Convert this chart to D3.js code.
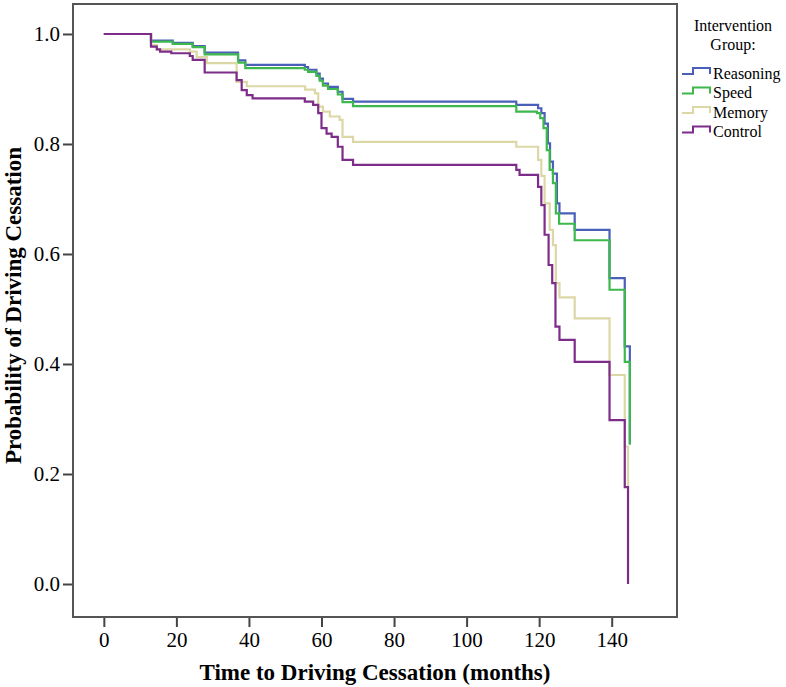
<!DOCTYPE html>
<html>
<head>
<meta charset="utf-8">
<script src="https://cdn.jsdelivr.net/npm/d3@7"></script>
<style>
  html, body { margin: 0; padding: 0; background: #ffffff; }
  svg { display: block; }
  text { font-family: "Liberation Serif", "Times New Roman", serif; fill: #000; }
</style>
</head>
<body>
<svg id="chart" width="786" height="687"></svg>
<script>
// ---- Data ----
const groups = ["Reasoning", "Speed", "Memory", "Control"];
const groupColors = ["#4a5fb8", "#3cb84c", "#dcd8a6", "#7d2c8a"];

const reasoningTimes = [0, 13.0, 19.0, 24.5, 27.8, 37.0, 39.0, 55.4, 56.3, 58.6, 59.5, 60.4, 61.8, 64.5, 65.8, 68.7, 113.7, 119.7, 120.6, 121.5, 122.4, 123.0, 123.8, 124.9, 125.6, 129.8, 139.4, 143.6, 145.0];
const reasoningProb  = [1.0, 0.988, 0.984, 0.978, 0.966, 0.952, 0.944, 0.940, 0.935, 0.928, 0.919, 0.910, 0.904, 0.895, 0.882, 0.877, 0.871, 0.865, 0.856, 0.837, 0.801, 0.768, 0.746, 0.692, 0.674, 0.644, 0.556, 0.432, 0.255];

const speedTimes = [0, 13.0, 19.0, 24.5, 27.8, 37.0, 39.0, 55.4, 56.3, 58.6, 59.5, 60.4, 61.8, 64.5, 65.8, 68.7, 113.7, 119.4, 120.3, 121.2, 122.1, 122.9, 123.8, 124.6, 125.5, 129.8, 139.4, 143.6, 145.0];
const speedProb  = [1.0, 0.986, 0.982, 0.976, 0.963, 0.948, 0.938, 0.935, 0.931, 0.924, 0.915, 0.906, 0.900, 0.890, 0.876, 0.869, 0.859, 0.856, 0.847, 0.829, 0.789, 0.753, 0.729, 0.674, 0.655, 0.625, 0.535, 0.404, 0.253];

const memoryTimes = [0, 13.0, 14.6, 23.7, 25.6, 28.4, 36.6, 39.4, 55.5, 58.2, 59.1, 60.4, 62.3, 65.0, 65.8, 68.7, 113.7, 119.7, 120.6, 121.5, 122.9, 123.8, 124.6, 125.6, 129.8, 139.4, 143.6, 144.5];
const memoryProb  = [1.0, 0.980, 0.972, 0.968, 0.958, 0.947, 0.913, 0.905, 0.899, 0.892, 0.868, 0.859, 0.850, 0.844, 0.813, 0.804, 0.795, 0.771, 0.742, 0.692, 0.644, 0.616, 0.547, 0.521, 0.483, 0.380, 0.250, 0.176];

const controlTimes = [0, 13.0, 14.6, 15.5, 18.6, 23.7, 24.5, 27.8, 36.6, 38.0, 39.4, 41.0, 55.4, 57.7, 59.1, 60.0, 61.4, 62.8, 64.5, 65.8, 68.7, 113.7, 114.6, 119.7, 120.6, 121.5, 122.6, 123.6, 124.5, 125.6, 129.8, 139.4, 143.6, 144.5];
const controlProb  = [1.0, 0.977, 0.972, 0.968, 0.965, 0.960, 0.953, 0.930, 0.916, 0.898, 0.889, 0.883, 0.877, 0.871, 0.856, 0.829, 0.819, 0.813, 0.795, 0.771, 0.762, 0.753, 0.744, 0.722, 0.689, 0.635, 0.580, 0.547, 0.468, 0.444, 0.404, 0.298, 0.176, 0.0];

const xTicks = [0, 20, 40, 60, 80, 100, 120, 140];
const yTicks = [0.0, 0.2, 0.4, 0.6, 0.8, 1.0];

const xTitle = "Time to Driving Cessation (months)";
const yTitle = "Probability of Driving Cessation";
const legendTitle = ["Intervention", "Group:"];

// ---- Build series ----
const seriesTimes = [reasoningTimes, speedTimes, memoryTimes, controlTimes];
const seriesProb = [reasoningProb, speedProb, memoryProb, controlProb];
const series = groups.map((g, i) => ({
  name: g,
  color: groupColors[i],
  points: seriesTimes[i].map((t, j) => ({ t: t, p: seriesProb[i][j] }))
}));

// ---- Layout ----
const svg = d3.select("#chart");
const pLeft = 73, pRight = 677, pTop = 4, pBottom = 617;

const x = d3.scaleLinear().domain([-8.5, 158]).range([pLeft, pRight]);
const y = d3.scaleLinear().domain([-0.06, 1.0545]).range([pBottom, pTop]);

// Axes
const xAxis = d3.axisBottom(x).tickValues(xTicks).tickSize(10).tickPadding(5).tickSizeOuter(0).tickFormat(d3.format("d"));
const yAxis = d3.axisLeft(y).tickValues(yTicks).tickSize(10).tickPadding(3).tickSizeOuter(0).tickFormat(d3.format(".1f"));

const gx = svg.append("g").attr("transform", `translate(0,${pBottom})`).call(xAxis);
const gy = svg.append("g").attr("transform", `translate(${pLeft},0)`).call(yAxis);
[gx, gy].forEach(g => {
  g.select(".domain").remove();
  g.selectAll(".tick line").attr("stroke", "#444").attr("stroke-width", 2);
  g.selectAll(".tick text").style("font-family", '"Liberation Serif", "Times New Roman", serif').style("font-size", "21px").attr("fill", "#000");
});

// Lines
const line = d3.line().x(d => x(d.t)).y(d => y(d.p)).curve(d3.curveStepAfter);
const plot = svg.append("g");
series.forEach(s => {
  plot.append("path")
    .datum(s.points)
    .attr("fill", "none")
    .attr("stroke", s.color)
    .attr("stroke-width", 2.2)
    .attr("stroke-linejoin", "miter")
    .attr("d", line);
});

// Frame
svg.append("rect")
  .attr("x", pLeft).attr("y", pTop)
  .attr("width", pRight - pLeft).attr("height", pBottom - pTop)
  .attr("fill", "none").attr("stroke", "#555").attr("stroke-width", 2);

// Axis titles
svg.append("text")
  .attr("x", (pLeft + pRight) / 2).attr("y", 680)
  .attr("text-anchor", "middle")
  .style("font-size", "23px").style("font-weight", "bold")
  .text(xTitle);

svg.append("text")
  .attr("transform", `translate(21,${(pTop + pBottom) / 2 - 5}) rotate(-90)`)
  .attr("text-anchor", "middle")
  .style("font-size", "23px").style("font-weight", "bold")
  .text(yTitle);

// Legend
const lg = svg.append("g");
legendTitle.forEach((t, i) => {
  lg.append("text")
    .attr("x", 733).attr("y", 31 + i * 18.5)
    .attr("text-anchor", "middle")
    .style("font-size", "16px")
    .text(t);
});
series.forEach((s, i) => {
  const by = 74 + i * 19.5;
  lg.append("path")
    .attr("d", `M682,${by} H693 V${by - 6} H710 V${by}`)
    .attr("fill", "none").attr("stroke", s.color).attr("stroke-width", 2);
  lg.append("text")
    .attr("x", 713).attr("y", by + 4.5)
    .style("font-size", "16px")
    .text(s.name);
});
</script>
</body>
</html>
